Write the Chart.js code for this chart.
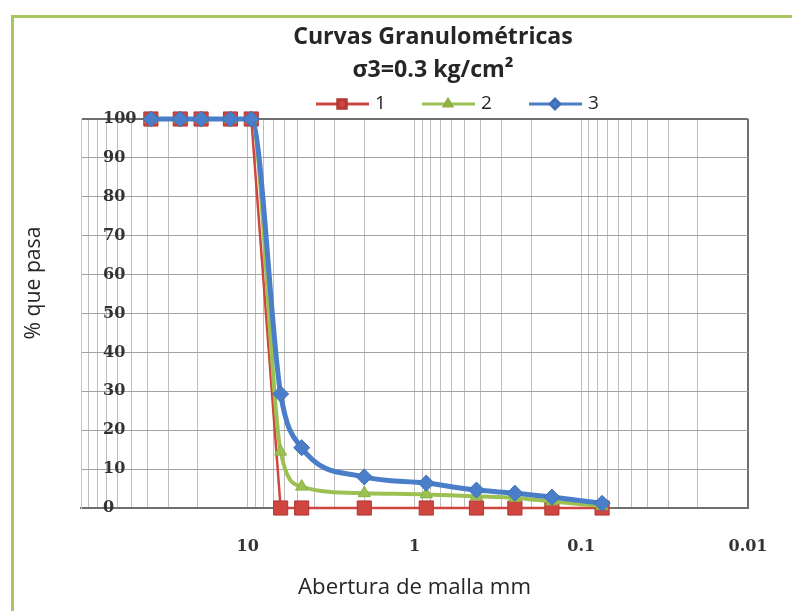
<!DOCTYPE html>
<html lang="es">
<head>
<meta charset="UTF-8">
<title>Curvas Granulométricas</title>
<script src="https://cdn.jsdelivr.net/npm/chart.js"></script>
<style>
    html, body {
        margin: 0;
        padding: 0;
        background: #fff;
    }
    .marco {
        position: absolute;
        left: 0;
        top: 0;
        width: 792px;
        height: 611px;
        overflow: hidden;
    }
    .borde {
        position: absolute;
        left: 11px;
        top: 15px;
        width: 820px;
        height: 640px;
        border-top: 3px solid #a9c65f;
        border-left: 3px solid #a9c65f;
    }
    canvas {
        position: absolute;
        left: 0;
        top: 0;
    }
</style>
</head>
<body>
<div class="marco">
    <div class="borde"></div>
    <canvas id="grafico" width="792" height="611"></canvas>
</div>
<script>
// abertura de los tamices (mm)
const abertura = [38.1, 25.4, 19.05, 12.7, 9.525, 6.35, 4.75, 2.0, 0.85, 0.425, 0.25, 0.15, 0.075];
// % que pasa de cada curva
const serie1 = [100, 100, 100, 100, 100, 0, 0, 0, 0, 0, 0, 0, 0];
const serie2 = [100, 100, 100, 100, 100, 14.5, 5.5, 3.8, 3.5, 3.0, 2.6, 1.7, 0.5];
const serie3 = [100, 100, 100, 100, 100, 29.3, 15.5, 8.0, 6.4, 4.6, 3.8, 2.8, 1.2];
const nombres = ['1', '2', '3'];
const etiquetasX = [10, 1, 0.1, 0.01];
const decadas = [0.01, 0.1, 1, 10];
const titulo = ['Curvas Granulométricas', 'σ3=0.3 kg/cm²'];
const tituloX = 'Abertura de malla mm';
const tituloY = '% que pasa';

const rojo = '#cf4640';
const verde = '#9cc152';
const azul = '#4a7ec8';
const texto = '#262626';
const fuente = '"Open Sans", sans-serif';
const fuenteNum = '"DejaVu Serif", serif';

// tamaño de letra para que el texto ocupe el ancho dado
function ajustar(txt, peso, ancho) {
    const c = document.createElement('canvas').getContext('2d');
    c.font = peso + ' 100px ' + fuente;
    return 100 * ancho / c.measureText(txt).width;
}

const tamT1 = ajustar(titulo[0], 'bold', 280);
const tamX = ajustar(tituloX, 'normal', 233);
const tamY = ajustar(tituloY, 'normal', 113);

function puntos(serie) {
    return abertura.map((x, i) => ({ x: x, y: serie[i] }));
}

// títulos y leyenda
const textos = {
    id: 'textos',
    afterDraw(chart) {
        const ctx = chart.ctx;
        ctx.save();
        ctx.fillStyle = texto;
        ctx.textAlign = 'center';
        ctx.textBaseline = 'middle';
        ctx.font = 'bold ' + tamT1 + 'px ' + fuente;
        ctx.fillText(titulo[0], 433, 37);
        ctx.fillText(titulo[1], 433, 70);

        // leyenda
        const xs = [316, 422, 529];
        const yl = 104;
        chart.data.datasets.forEach((ds, i) => {
            const x0 = xs[i];
            ctx.strokeStyle = ds.borderColor;
            ctx.lineWidth = 3;
            ctx.beginPath();
            ctx.moveTo(x0, yl);
            ctx.lineTo(x0 + 53, yl);
            ctx.stroke();
            ctx.fillStyle = ds.backgroundColor;
            ctx.strokeStyle = ds.pointBorderColor;
            Chart.helpers.drawPoint(ctx, {
                pointStyle: ds.pointStyle,
                radius: ds.pointRadius * 0.6,
                rotation: 0,
                borderWidth: 1
            }, x0 + 26, yl);
            ctx.fillStyle = texto;
            ctx.textAlign = 'left';
            ctx.font = '19px ' + fuente;
            ctx.fillText(nombres[i], x0 + 59, yl);
        });

        // título del eje y
        ctx.translate(34, 283);
        ctx.rotate(-Math.PI / 2);
        ctx.textAlign = 'center';
        ctx.font = tamY + 'px ' + fuente;
        ctx.fillText(tituloY, 0, 0);
        ctx.restore();
    }
};

new Chart(document.getElementById('grafico'), {
    type: 'line',
    data: {
        datasets: [{
            label: nombres[0],
            data: puntos(serie1),
            borderColor: rojo,
            backgroundColor: rojo,
            pointBorderColor: '#b23832',
            pointStyle: 'rect',
            pointRadius: 10,
            pointBorderWidth: 1,
            borderWidth: 2.5,
            tension: 0,
            order: 3,
            clip: false
        }, {
            label: nombres[1],
            data: puntos(serie2),
            borderColor: verde,
            backgroundColor: verde,
            pointBorderColor: '#8db044',
            pointStyle: 'triangle',
            pointRadius: 7,
            pointBorderWidth: 1,
            borderWidth: 4,
            cubicInterpolationMode: 'monotone',
            order: 2,
            clip: false
        }, {
            label: nombres[2],
            data: puntos(serie3),
            borderColor: azul,
            backgroundColor: azul,
            pointBorderColor: '#3f70b6',
            pointStyle: 'rectRot',
            pointRadius: 8,
            pointBorderWidth: 1,
            borderWidth: 5,
            cubicInterpolationMode: 'monotone',
            order: 1,
            clip: false
        }]
    },
    options: {
        responsive: false,
        animation: false,
        devicePixelRatio: 1,
        layout: {
            padding: { top: 119, right: 44, bottom: 0, left: 0 }
        },
        plugins: {
            legend: { display: false },
            title: { display: false },
            tooltip: { enabled: false }
        },
        scales: {
            x: {
                type: 'logarithmic',
                reverse: true,
                min: 0.01,
                max: 100,
                afterBuildTicks: (scale) => {
                    const marcas = [];
                    decadas.forEach((d) => {
                        for (let m = 1; m <= 9; m++) {
                            marcas.push({ value: +(m * d).toPrecision(3) });
                        }
                    });
                    marcas.push({ value: 100 });
                    scale.ticks = marcas;
                },
                afterFit: (scale) => {
                    scale.height = 103;
                },
                ticks: {
                    autoSkip: false,
                    maxRotation: 0,
                    padding: 29,
                    color: '#333',
                    font: { family: fuenteNum, size: 16, weight: 'bold' },
                    callback: (v) => etiquetasX.includes(v) ? String(v) : ''
                },
                grid: {
                    drawTicks: false,
                    color: (c) => c.tick && c.tick.value === 0.01 ? '#6f6f6f' : '#bdbdbd',
                    lineWidth: (c) => c.tick && c.tick.value === 0.01 ? 2 : 1
                },
                border: { color: '#707070', width: 2 },
                title: {
                    display: true,
                    text: tituloX,
                    color: texto,
                    font: { family: fuente, size: tamX },
                    padding: { top: 0, bottom: 10 }
                }
            },
            y: {
                min: 0,
                max: 100,
                afterFit: (scale) => {
                    scale.width = 81;
                },
                ticks: {
                    stepSize: 10,
                    mirror: true,
                    padding: 22,
                    color: '#333',
                    font: { family: fuenteNum, size: 16, weight: 'bold' }
                },
                grid: {
                    drawTicks: false,
                    color: (c) => c.tick && c.tick.value === 100 ? '#6f6f6f' : '#a3a3a3',
                    lineWidth: (c) => c.tick && c.tick.value === 100 ? 2 : 1
                },
                border: { color: '#c6c6c6', width: 1 }
            }
        }
    },
    plugins: [textos]
});
</script>
</body>
</html>
